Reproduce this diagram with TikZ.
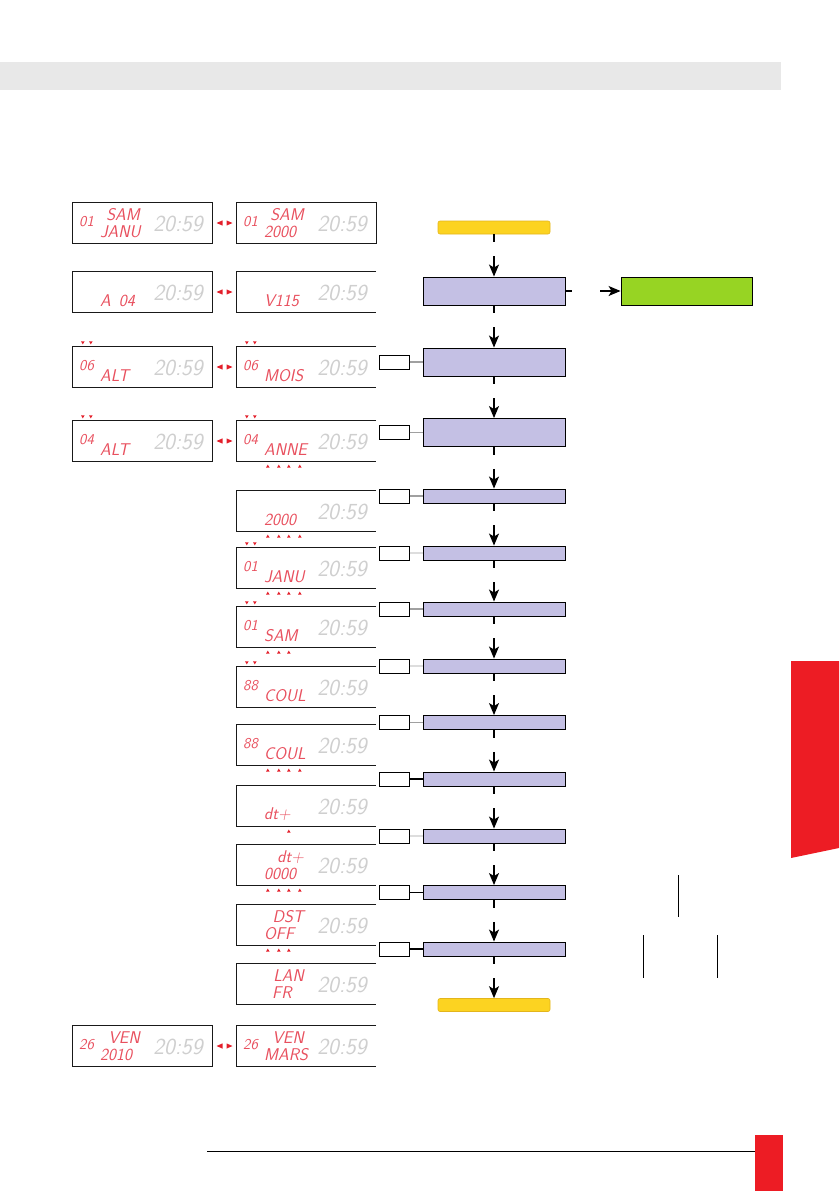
\documentclass[tikz,border=0pt]{standalone}
\usepackage{tikz}
\usetikzlibrary{arrows.meta,positioning,calc}
\definecolor{lcdred}{HTML}{E8505E}
\definecolor{markred}{HTML}{E31E2A}
\definecolor{clockgray}{HTML}{CFCFCF}
\definecolor{bandgray}{HTML}{E8E8E8}
\definecolor{tabred}{HTML}{ED1C24}
\definecolor{stepfill}{HTML}{C4C0E4}
\definecolor{okgreen}{HTML}{97D423}
\definecolor{endyellow}{HTML}{FCD321}
\definecolor{endborder}{HTML}{E3B51C}
\definecolor{keyline}{HTML}{A0A0A0}
\definecolor{keyfaint}{HTML}{DDDDDD}

\tikzset{
  lcdframe/.style={minimum width=139, minimum height=40, inner sep=0},
  lcdline/.style={line width=0.9pt, black!90},
  lcdcode/.style={font={\sffamily\slshape\fontsize{15}{15}\selectfont}, text=lcdred, inner sep=0},
  lcdword/.style={lcdcode, font={\sffamily\slshape\fontsize{17}{17}\selectfont}},
  lcdtop/.style={lcdword, anchor=east},
  lcdbot/.style={lcdword, anchor=west},
  lcdclock/.style={font={\sffamily\slshape\fontsize{23}{23}\selectfont}, text=clockgray, inner sep=0},
  stepbox/.style={draw, line width=0.9pt, fill=stepfill, minimum width=142, minimum height=14, inner sep=0},
  tallbox/.style={stepbox, minimum height=28},
  okbox/.style={draw, line width=0.9pt, fill=okgreen, minimum width=131, minimum height=28, inner sep=0},
  endbox/.style={draw=endborder, line width=0.6pt, fill=endyellow, rounded corners=2pt, minimum width=112, minimum height=13, inner sep=0},
  keybox/.style={draw, line width=0.9pt, fill=white, minimum width=30, minimum height=14, inner sep=0},
  flowarrow/.style={line width=1.3pt, -{Stealth[length=12pt,width=10pt,inset=3pt]}, dash pattern=on 8pt off 14pt on 300pt},
  dnmark/.pic={\fill[markred] (-1.8,-1.4) -- (1.8,-1.4) -- (0,1.6) -- cycle;},
  upmark/.pic={\fill[markred] (-1.8,1.4) -- (1.8,1.4) -- (0,-1.6) -- cycle;},
  swapmark/.pic={
    \fill[markred] (-2,-2.6) -- (-2,2.6) -- (-8,0) -- cycle;
    \fill[markred] (2,-2.6) -- (2,2.6) -- (8,0) -- cycle;
  },
}

% one LCD panel: name, left, top, code, upper line, lower line
\newcommand{\lcdpanel}[6]{%
  \node[lcdframe] (#1) at (#2+69.5,#3+20) {};
  \node[lcdcode] (#1-code) at (#2+13.5,#3+19) {#4};
  \node[lcdtop] (#1-top) at (#2+67,#3+12) {#5};
  \node[lcdbot] (#1-bot) at (#2+27,#3+28.5) {#6};
  \node[lcdclock] (#1-clock) at (#2+105,#3+21) {20:59};
}

\begin{document}
\begin{tikzpicture}[x=1pt,y=-1pt]
  \useasboundingbox (0,0) rectangle (839,1191);

  % Page furniture
  \fill[bandgray] (0,62) rectangle (781,90);
  \fill[tabred] (791,661) -- (839,661) -- (839,848) -- (791,858) -- cycle;
  \draw[line width=0.9pt] (207,1151) -- (755,1151);
  \fill[tabred] (755,1135) rectangle (783,1191);

  % LCD panels, left column
  \lcdpanel{dl1}{73}{203}{01}{SAM}{JANU}
  \lcdpanel{dl2}{73}{272}{}{}{A\phantom{0}04}
  \lcdpanel{dl3}{73}{347}{06}{}{ALT}
  \lcdpanel{dl4}{73}{421}{04}{}{ALT}
  \lcdpanel{dl14}{73}{1026}{26}{VEN}{2010}

  % LCD panels, right column
  \lcdpanel{dr1}{237}{203}{01}{SAM}{2000}
  \lcdpanel{dr2}{237}{272}{}{}{V115}
  \lcdpanel{dr3}{237}{347}{06}{}{MOIS}
  \lcdpanel{dr4}{237}{421}{04}{}{ANNE}
  \lcdpanel{dr5}{237}{491}{}{}{2000}
  \lcdpanel{dr6}{237}{548}{01}{}{JANU}
  \lcdpanel{dr7}{237}{607}{01}{}{SAM}
  \lcdpanel{dr8}{237}{667}{88}{}{COUL}
  \lcdpanel{dr9}{237}{725}{88}{}{COUL}
  \lcdpanel{dr10}{237}{786}{}{}{dt+}
  \lcdpanel{dr11}{237}{845}{}{dt+}{0000}
  \lcdpanel{dr12}{237}{905}{}{DST}{OFF}
  \lcdpanel{dr13}{237}{964}{}{LAN}{\phantom{0}FR}
  \lcdpanel{dr14}{237}{1026}{26}{VEN}{MARS}

  % Panel frames
  \foreach \d in {dl1,dl2,dl3,dl4,dl14,dr1}
    \draw[lcdline] (\d.north west) rectangle (\d.south east);
  \foreach \d in {dr2,dr3,dr4,dr5,dr6,dr7,dr8,dr9,dr10,dr11,dr12,dr13,dr14}
    \draw[lcdline] (\d.north east) -- (\d.north west) -- (\d.south west) -- (\d.south east);

  % Blinking marks
  \foreach \a/\b in {dl1/dr1,dl2/dr2,dl3/dr3,dl4/dr4,dl14/dr14}
    \pic at ($(\a.east)!0.5!(\b.west)$) {swapmark};
  \foreach \d in {dl3,dl4,dr3,dr4,dr6,dr7,dr8}
    \foreach \dx in {10,18}
      \pic at ($(\d.north west)+(\dx,-4)$) {dnmark};
  \foreach \d in {dr4,dr5,dr6,dr9,dr11}
    \foreach \dx in {31,42,52,63}
      \pic at ($(\d.south west)+(\dx,5)$) {upmark};
  \foreach \d in {dr7,dr12}
    \foreach \dx in {31,42,52}
      \pic at ($(\d.south west)+(\dx,5)$) {upmark};
  \pic at ($(dr10.south west)+(52,5)$) {upmark};

  % Flow chart
  \node[endbox] (start) at (494,227.5) {};
  \node[tallbox] (s1) at (494,291) {};
  \node[okbox] (ok) at (686.5,291) {};
  \node[tallbox] (s2) at (494,362) {};
  \node[tallbox] (s3) at (494,432.5) {};
  \foreach \i/\y in {1/496,2/553,3/609,4/666,5/722.5,6/779,7/836,8/892.5,9/949}
    \node[stepbox] (t\i) at (494,\y) {};
  \node[endbox] (stop) at (494,1005) {};

  \foreach \a/\b in {start/s1,s1/s2,s2/s3,s3/t1,t1/t2,t2/t3,t3/t4,t4/t5,t5/t6,t6/t7,t7/t8,t8/t9,t9/stop}
    \draw[flowarrow] (\a) -- (\b);
  \draw[flowarrow, dash pattern=on 7pt off 28pt on 300pt] (s1) -- (ok);

  % Key boxes
  \foreach \n/\c in {s2/keyline,s3/keyline,t1/keyline,t2/keyfaint,t3/keyline,t4/keyfaint,
                     t5/keyline,t6/black,t7/keyfaint,t8/black,t9/black}{
    \node[keybox, left=13pt of \n] (k-\n) {};
    \draw[\c, line width=1.2pt] (k-\n) -- (\n);
  }

  % Table rules on the right
  \draw[line width=0.9pt] (678,875) -- (678,917);
  \draw[line width=0.9pt] (643,935) -- (643,978);
  \draw[line width=0.9pt] (717,935) -- (717,978);
\end{tikzpicture}
\end{document}
